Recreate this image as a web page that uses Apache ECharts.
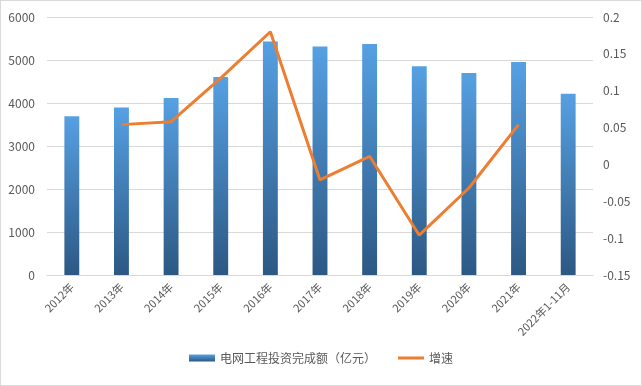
<!DOCTYPE html>
<html><head><meta charset="utf-8">
<script src="https://cdn.jsdelivr.net/npm/echarts@6/dist/echarts.min.js"></script>
<style>html,body{margin:0;padding:0;background:#fff}#c{width:640px;height:384px;border:1px solid #d9d9d9}</style>
</head><body><div id="c"></div>
<script>
var categories = ['2012年','2013年','2014年','2015年','2016年','2017年','2018年','2019年','2020年','2021年','2022年1-11月'];
var investment = [3693, 3894, 4118, 4603, 5431, 5315, 5373, 4856, 4699, 4951, 4217];
var growth = [null, 0.054, 0.058, 0.117, 0.18, -0.021, 0.011, -0.096, -0.032, 0.054, null];
var leftTicks = [0, 6000, 1000];
var rightTicks = [-0.15, 0.2, 0.05];

var chart = echarts.init(document.getElementById('c'));
var font = 'Microsoft YaHei, "Noto Sans CJK SC", sans-serif';
var thinLine = 'path://M0,0L0.01,0L0,0.01Z M0,2L26,2L26,5L0,5Z M26,7L25.99,7L26,6.99Z';
chart.setOption({
  animation: false,
  textStyle: {fontFamily: font},
  grid: {left: 46, right: 48, top: 16, bottom: 110},
  legend: {
    bottom: 16, left: 'center', itemGap: 22, itemWidth: 26, itemHeight: 7,
    textStyle: {color: '#595959', fontSize: 12, fontFamily: font},
    data: [
      {name: '电网工程投资完成额（亿元）', icon: 'rect'},
      {name: '增速', icon: thinLine, itemStyle: {color: '#ED7D31'}}
    ]
  },
  xAxis: {
    type: 'category', data: categories,
    axisLine: {show: true, lineStyle: {color: '#d9d9d9'}},
    axisTick: {show: false},
    axisLabel: {rotate: 45, color: '#595959', fontSize: 11, interval: 0, margin: 10, fontFamily: font}
  },
  yAxis: [
    {type: 'value', min: leftTicks[0], max: leftTicks[1], interval: leftTicks[2],
     axisLine: {show: false}, axisTick: {show: false},
     axisLabel: {color: '#595959', fontSize: 12, margin: 12,
       formatter: function(v){ return String(v); }},
     splitLine: {lineStyle: {color: '#d9d9d9'}}},
    {type: 'value', min: rightTicks[0], max: rightTicks[1], interval: rightTicks[2],
     axisLine: {show: false}, axisTick: {show: false},
     axisLabel: {color: '#595959', fontSize: 12, margin: 10,
       formatter: function(v){ return String(Math.round(v*100)/100); }},
     splitLine: {show: false}}
  ],
  series: [
    {name: '电网工程投资完成额（亿元）', type: 'bar', data: investment, barWidth: '30%',
     itemStyle: {color: new echarts.graphic.LinearGradient(0,0,0,1,[{offset:0,color:'#56A0E3'},{offset:1,color:'#2C5883'}])}},
    {name: '增速', type: 'line', yAxisIndex: 1, data: growth, symbol: 'none',
     connectNulls: false,
     lineStyle: {color: '#ED7D31', width: 3}, itemStyle: {color: '#ED7D31'}}
  ]
});
</script></body></html>
